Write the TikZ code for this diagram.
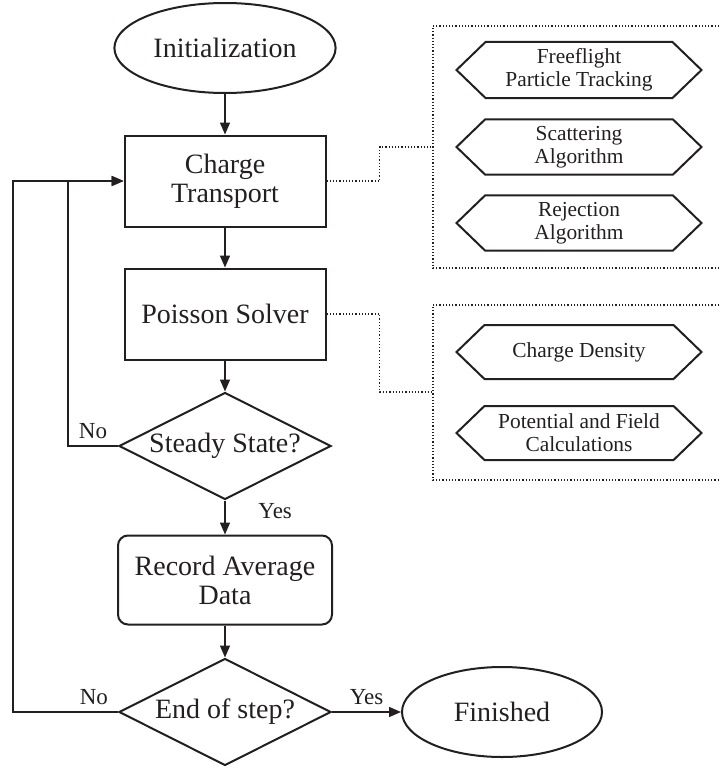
\documentclass[tikz,border=0pt]{standalone}
\usepackage{fontspec}
\setmainfont{Liberation Serif}
\usepackage{xcolor}
\usepackage{tikz}
\usetikzlibrary{shapes.geometric, shapes.symbols, arrows.meta, positioning, calc}
\definecolor{inkdark}{RGB}{35, 31, 32}
\newcommand{\mainfont}{\fontsize{14}{14.5}\selectfont}
\newcommand{\subfont}{\fontsize{10.7}{11.5}\selectfont}
\newcommand{\tagfont}{\fontsize{11.5}{13}\selectfont}
\tikzstyle{terminal} = [ellipse, draw=inkdark, text=inkdark, minimum width=100pt, minimum height=45pt, line width=1pt, font=\mainfont]
\tikzstyle{process} = [rectangle, draw=inkdark, text=inkdark, align=center, minimum width=100.5pt, minimum height=45.5pt, line width=1pt, font=\mainfont]
\tikzstyle{record} = [process, rounded corners=5pt, minimum width=107pt, minimum height=44.5pt]
\tikzstyle{decision} = [diamond, draw=inkdark, text=inkdark, aspect=2, inner sep=0pt, minimum width=106pt, minimum height=53.5pt, line width=1pt, font=\mainfont]
\tikzstyle{subtask} = [signal, signal to=west and east, signal pointer angle=88, draw=inkdark, text=inkdark, align=center, minimum width=122.5pt, minimum height=27pt, line width=1pt, font=\subfont]
\tikzstyle{arrow} = [-{Triangle[length=6pt, width=5pt]}, draw=inkdark, line width=0.8pt]
\tikzstyle{link} = [draw=inkdark, line width=0.6pt, densely dotted]
\tikzstyle{tag} = [text=inkdark, font=\tagfont]

\begin{document}
\begin{tikzpicture}[x=0.5pt, y=-0.5pt]
    \useasboundingbox (0,0) rectangle (719,771);

    % Main flow
    \node[terminal] (init) at (225,48) {Initialization};
    \node[process] (transport) at (225,181) {Charge\\Transport};
    \node[process] (poisson) at (225,314) {Poisson Solver};
    \node[decision] (steady) at (225,446) {Steady State?};
    \node[record] (average) at (225,580) {Record Average\\Data};
    \node[decision] (endstep) at (225,712) {End of step?};
    \node[terminal] (finished) at (502,712) {Finished};

    % Sub-tasks
    \node[subtask] (freeflight) at (579,70) {Freeflight\\Particle Tracking};
    \node[subtask] (scattering) at (579,147) {Scattering\\Algorithm};
    \node[subtask] (rejection) at (579,223) {Rejection\\Algorithm};
    \node[subtask] (density) at (579,352) {Charge Density};
    \node[subtask] (field) at (579,433) {Potential and Field\\Calculations};

    % Group frames (cut off at the right edge)
    \coordinate (transgroup) at (433,147);
    \coordinate (poisgroup) at (433,392);
    \draw[link] (719,26) -| (433,268) -- (719,268);
    \draw[link] (719,305) -| (433,480) -- (719,480);

    % Arrows
    \draw[arrow] (init) -- (transport);
    \draw[arrow] (transport) -- (poisson);
    \draw[arrow] (poisson) -- (steady);
    \draw[arrow] (steady) -- (average) node[tag, pos=0.3, right=13pt] {Yes};
    \draw[arrow] (average) -- (endstep);
    \draw[arrow] (endstep) -- (finished) node[tag, midway, above] {Yes};
    \draw[arrow] (steady.west) -- ++(-50,0) node[tag, midway, above] {No} |- (transport.west);
    \draw[arrow] (endstep.west) -- ++(-105,0) node[tag, pos=0.23, above] {No} |- (transport.west);

    % Dotted links to the groups
    \draw[link] (transport.east) -| ($(transport.east)!0.5!(transgroup)$) |- (transgroup);
    \draw[link] (poisson.east) -| ($(poisson.east)!0.5!(poisgroup)$) |- (poisgroup);
\end{tikzpicture}
\end{document}
